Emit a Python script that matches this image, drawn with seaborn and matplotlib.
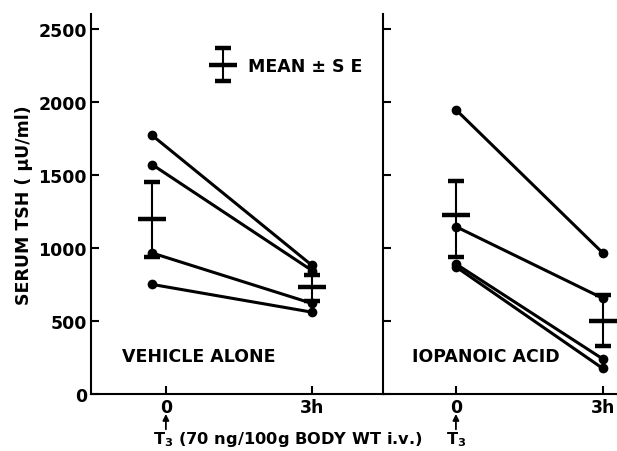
import pandas as pd
import matplotlib
matplotlib.use("Agg")
import matplotlib.pyplot as plt
import seaborn as sns
from matplotlib.container import ErrorbarContainer
from matplotlib.legend_handler import HandlerErrorbar

sns.set_style("ticks", {"text.color": "black", "axes.labelcolor": "black",
                        "xtick.color": "black", "ytick.color": "black",
                        "axes.edgecolor": "black"})
plt.rcParams['font.family'] = ['DejaVu Sans']
plt.rcParams['mathtext.default'] = 'regular'

# serum TSH (uU/ml) per rat, before (0) and 3 h after T3
hours = [0, 3]
vehicle_0h = [1770, 1570, 965, 750]
vehicle_3h = [880, 845, 620, 560]
iopanoic_0h = [1945, 1145, 890, 870]
iopanoic_3h = [965, 655, 240, 175]

# mean and mean -/+ SE
vehicle_mean = [1200, 735]
vehicle_lo = [940, 638]
vehicle_hi = [1450, 815]
iopanoic_mean = [1225, 500]
iopanoic_lo = [940, 330]
iopanoic_hi = [1455, 680]

rows = []
for g, a, b in [("vehicle", vehicle_0h, vehicle_3h), ("iopanoic", iopanoic_0h, iopanoic_3h)]:
    for i, (v0, v3) in enumerate(zip(a, b)):
        rows.append((g, i, hours[0], v0))
        rows.append((g, i, hours[1], v3))
df = pd.DataFrame(rows, columns=["group", "rat", "time", "tsh"])

fig = plt.figure(figsize=(6.17, 4.52), dpi=100)
ax1 = fig.add_axes([0.1475, 0.126, 0.6207 - 0.1475, 0.841])
ax2 = fig.add_axes([0.6207, 0.126, 1.0 - 0.6207, 0.841], sharey=ax1)

fs = 12.5
conf = [
    (ax1, "vehicle", vehicle_mean, vehicle_lo, vehicle_hi, "VEHICLE ALONE", (-1.144, 4.331), [0.26, 3], -0.56),
    (ax2, "iopanoic", iopanoic_mean, iopanoic_lo, iopanoic_hi, "IOPANOIC ACID", (-1.49, 3.29), [0, 3], -0.9),
]
for ax, g, m, lo, hi, title, xl, ticks, tx in conf:
    sub = df[df.group == g]
    sns.lineplot(data=sub, x="time", y="tsh", units="rat", estimator=None,
                 marker="o", color="black", lw=2.2, markersize=7,
                 markeredgewidth=0, ax=ax, legend=False)
    yerr = [[a - b for a, b in zip(m, lo)], [b - a for a, b in zip(m, hi)]]
    eb = ax.errorbar(hours, m, yerr=yerr, fmt="_", color="black",
                     markersize=20, mew=3.2, elinewidth=1.5, capsize=6, capthick=1.5)
    if ax is ax1:
        leg_handle = eb
    ax.set_xlim(*xl)
    ax.set_xticks(ticks)
    ax.set_xticklabels(["0", "3h"], fontsize=fs, fontweight="bold")
    ax.text(tx, 260, title, fontsize=fs, fontweight="bold", va="center")
    ax.set_xlabel("")
    ax.set_ylabel("")
    for s in ["top", "right"]:
        ax.spines[s].set_visible(False)
    for s in ["left", "bottom"]:
        ax.spines[s].set_linewidth(1.5)
    ax.tick_params(direction="in", width=1.5, length=6, pad=3)
    tr = ax.get_xaxis_transform()
    ax.annotate("", xy=(ticks[0], -0.045), xytext=(ticks[0], -0.1), xycoords=tr,
                textcoords=tr, arrowprops=dict(arrowstyle="-|>", color="black", lw=1.3,
                                               mutation_scale=9), annotation_clip=False)

ax1.set_ylim(0, 2600)
ax1.set_yticks([0, 500, 1000, 1500, 2000, 2500])
ax1.set_yticklabels(["0", "500", "1000", "1500", "2000", "2500"], fontsize=fs, fontweight="bold")
ax2.tick_params(axis="y", labelleft=False)
ax1.set_ylabel("SERUM TSH ( μU/ml)", fontsize=fs, fontweight="bold", labelpad=4)

ax1.text(0.02, -0.118, "T$_3$ (70 ng/100g BODY WT i.v.)", transform=ax1.get_xaxis_transform(),
         fontsize=fs - 0.8, fontweight="bold", ha="left", va="center")
ax2.text(0, -0.118, "T$_3$", transform=ax2.get_xaxis_transform(),
         fontsize=fs - 0.8, fontweight="bold", ha="center", va="center")

ax1.legend([leg_handle], ["MEAN ± S E"], loc="center left", bbox_to_anchor=(0.40, 0.863),
           frameon=False, borderpad=0, borderaxespad=0, handlelength=1.8, handletextpad=0.5,
           numpoints=1, prop=dict(size=fs, weight="bold"),
           handler_map={ErrorbarContainer: HandlerErrorbar(yerr_size=0.95)})

fig.savefig("out.png", dpi=100)
